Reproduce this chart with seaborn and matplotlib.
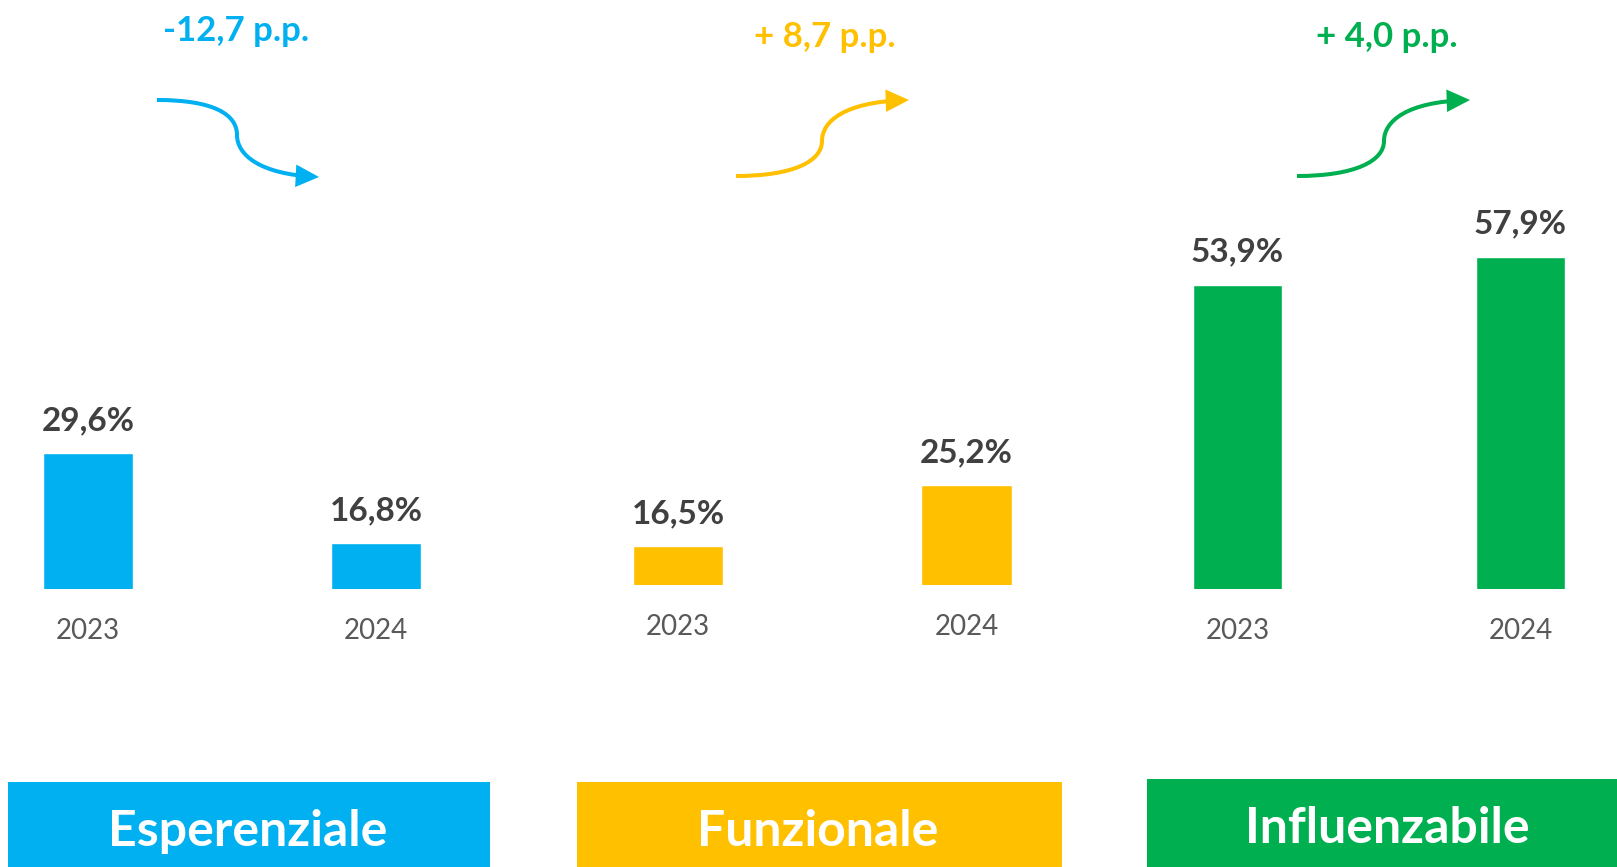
import matplotlib
matplotlib.use("Agg")
import matplotlib.pyplot as plt
import seaborn as sns
import pandas as pd
from matplotlib.path import Path
from matplotlib.patches import FancyArrowPatch, Rectangle, ArrowStyle

# ---- data ----
categories = ["Esperenziale", "Funzionale", "Influenzabile"]
years = ["2023", "2024"]
values_esperenziale = [29.6, 16.8]
values_funzionale = [16.5, 25.2]
values_influenzabile = [53.9, 57.9]
deltas = ["-12,7 p.p.", "+ 8,7 p.p.", "+ 4,0 p.p."]
colors = ["#00B0F0", "#FFC000", "#00B050"]

sns.set_theme(style="white")
FONT = ["Lato", "DejaVu Sans"]
plt.rcParams["font.family"] = FONT

W, H = 1617, 867
fig = plt.figure(figsize=(W / 100, H / 100), dpi=100)
fig.patch.set_facecolor("white")

def rect_px(left, right, bottom, top):
    return [left / W, 1 - bottom / H, (right - left) / W, (bottom - top) / H]

# group layout in pixels: (center of bar 0, center of bar 1, baseline y, axis minimum)
layout = [(88, 376, 589, 10.2), (678, 966.5, 585, 10.9), (1237.5, 1520.5, 589, 10.4)]
series = [values_esperenziale, values_funzionale, values_influenzabile]
PXPER = 7.0
AX_H = 400
pad_frac = 0.2

for cat, vals, col, (c0, c1, base, ymin) in zip(categories, series, colors, layout):
    sp = c1 - c0
    left = c0 - pad_frac * sp
    right = c1 + pad_frac * sp
    ax = fig.add_axes(rect_px(left, right, base, base - AX_H))
    df = pd.DataFrame({"Anno": years, "Valore": vals})
    sns.barplot(data=df, x="Anno", y="Valore", ax=ax, color=col,
                saturation=1, width=0.315)
    ax.set_xlim(-pad_frac, 1 + pad_frac)
    ax.set_ylim(ymin, ymin + AX_H / PXPER)
    ax.set_facecolor("none")
    for s in ax.spines.values():
        s.set_visible(False)
    ax.set_yticks([])
    ax.set_xlabel("")
    ax.set_ylabel("")
    ax.tick_params(axis="x", length=0, pad=21, labelsize=20, labelcolor="#595959")
    for i, v in enumerate(vals):
        ax.annotate(f"{v:.1f}".replace(".", ",") + "%", xy=(i, v),
                    xytext=(0, 16.5), textcoords="offset points",
                    ha="center", va="baseline", fontsize=24,
                    fontweight="bold", color="#404040", family=FONT)

# overlay for decorations
ov = fig.add_axes([0, 0, 1, 1])
ov.set_xlim(0, W)
ov.set_ylim(H, 0)
ov.axis("off")
ov.set_facecolor("none")

# category boxes
boxes = [(8, 490, 782), (577, 1062, 782), (1147, 1625, 779)]
box_text = [(248, 846), (818, 846), (1387, 843)]
for cat, col, (l, r, t), (tx, ty) in zip(categories, colors, boxes, box_text):
    ov.add_patch(Rectangle((l, t), r - l, H + 10 - t, facecolor=col,
                           edgecolor="none", clip_on=False))
    ov.text(tx, ty, cat, ha="center", va="baseline", fontsize=36,
            fontweight="bold", color="white", family=FONT)

# delta labels
delta_pos = [(236, 41), (825, 47), (1387, 47)]
for d, col, (tx, ty) in zip(deltas, colors, delta_pos):
    ov.text(tx, ty, d, ha="center", va="baseline", fontsize=25,
            fontweight="bold", color=col, family=FONT)

# S-shaped arrows
C4 = Path.CURVE4
arrow_paths = [
    [(157, 100), (215, 100), (237, 115), (237, 135), (237, 155), (260, 174), (319, 177)],
    [(736, 176), (794, 176), (822, 161), (822, 141), (822, 121), (845, 102), (909, 100)],
    [(1297, 176), (1355, 176), (1384, 161), (1384, 141), (1384, 121), (1407, 102), (1470, 100)],
]
for pts, col in zip(arrow_paths, colors):
    codes = [Path.MOVETO, C4, C4, C4, C4, C4, C4]
    p = Path(pts, codes)
    arr = FancyArrowPatch(path=p,
                          arrowstyle=ArrowStyle("-|>", head_length=1.2, head_width=0.58),
                          mutation_scale=10, color=col, lw=2.9,
                          joinstyle="miter", capstyle="butt")
    ov.add_patch(arr)

fig.savefig("out.png", dpi=100, facecolor="white")
